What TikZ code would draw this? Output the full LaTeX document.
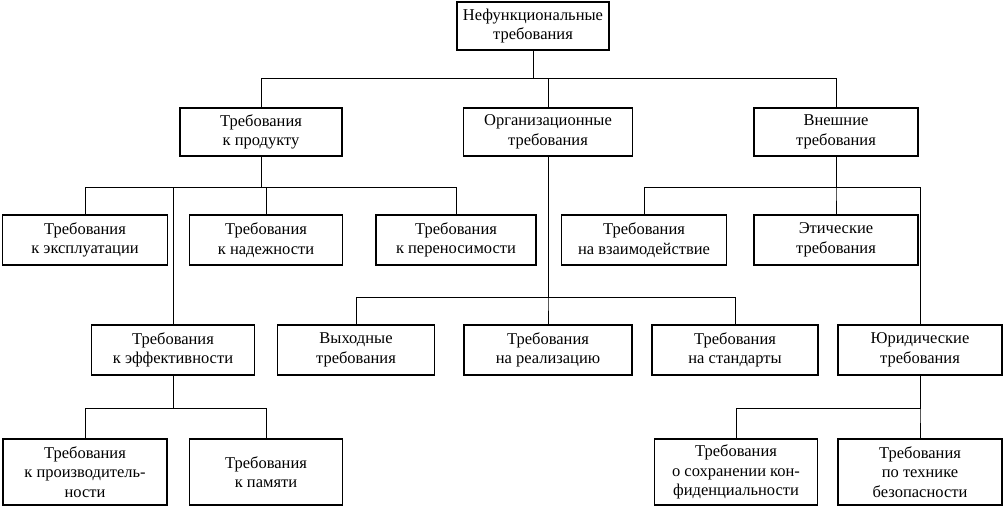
\documentclass[tikz,border=0pt]{standalone}
\usepackage{fontspec}
\setmainfont{Liberation Serif}
\begin{document}
\begin{tikzpicture}[x=1pt,y=-1pt,
  bx/.style={draw,line width=1.6pt,align=center,inner sep=0pt,font=\fontsize{16.5}{19.5}\selectfont},
  ln/.style={line width=1pt}]
\useasboundingbox (0,0) rectangle (1007,508);
\newcommand{\bxn}[7]{\node[bx,minimum width=#3pt,minimum height=#4pt] (#1) at (#2) {#5};}
\bxn{root}{533,26}{152}{48}{Нефункциональные\\требования}{}{}
\bxn{prod}{261,132}{162}{48}{Требования\\к продукту}{}{}
\bxn{org}{548,132}{169}{48}{Организационные\\требования}{}{}
\bxn{ext}{836,132}{164}{48}{Внешние\\требования}{}{}
\bxn{expl}{85,240}{165}{50}{Требования\\к эксплуатации}{}{}
\bxn{rel}{266,240}{153}{50}{Требования\\к надежности}{}{}
\bxn{port}{456,240}{160}{50}{Требования\\к переносимости}{}{}
\bxn{inter}{644,240}{165}{50}{Требования\\на взаимодействие}{}{}
\bxn{eth}{836,240}{164}{50}{Этические\\требования}{}{}
\bxn{eff}{173,350}{163}{50}{Требования\\к эффективности}{}{}
\bxn{out}{356,350}{157}{50}{Выходные\\требования}{}{}
\bxn{impl}{548,350}{168}{50}{Требования\\на реализацию}{}{}
\bxn{std}{735,350}{166}{50}{Требования\\на стандарты}{}{}
\bxn{leg}{920,350}{164}{50}{Юридические\\требования}{}{}
\bxn{perf}{85,472}{164}{66}{Требования\\к производитель-\\ности}{}{}
\bxn{mem}{266,472}{153}{66}{Требования\\к памяти}{}{}
\bxn{conf}{736,472}{163}{66}{Требования\\о сохранении кон-\\фиденциальности}{}{}
\bxn{safe}{920,472}{164}{66}{Требования\\по технике\\безопасности}{}{}
\foreach \c in {prod,org,ext} \draw[ln] (root.south) -- ++(0,28) -| (\c.north);
\foreach \c in {expl,rel,port,eff} \draw[ln] (prod.south) -- ++(0,31) -| (\c.north);
\foreach \c in {out,impl,std} \draw[ln] (org.south) -- ++(0,141) -| (\c.north);
\foreach \c in {inter,eth,leg} \draw[ln] (ext.south) -- ++(0,31) -| (\c.north);
\foreach \c in {perf,mem} \draw[ln] (eff.south) -- ++(0,33) -| (\c.north);
\foreach \c in {conf,safe} \draw[ln] (leg.south) -- ++(0,33) -| (\c.north);
\end{tikzpicture}
\end{document}
